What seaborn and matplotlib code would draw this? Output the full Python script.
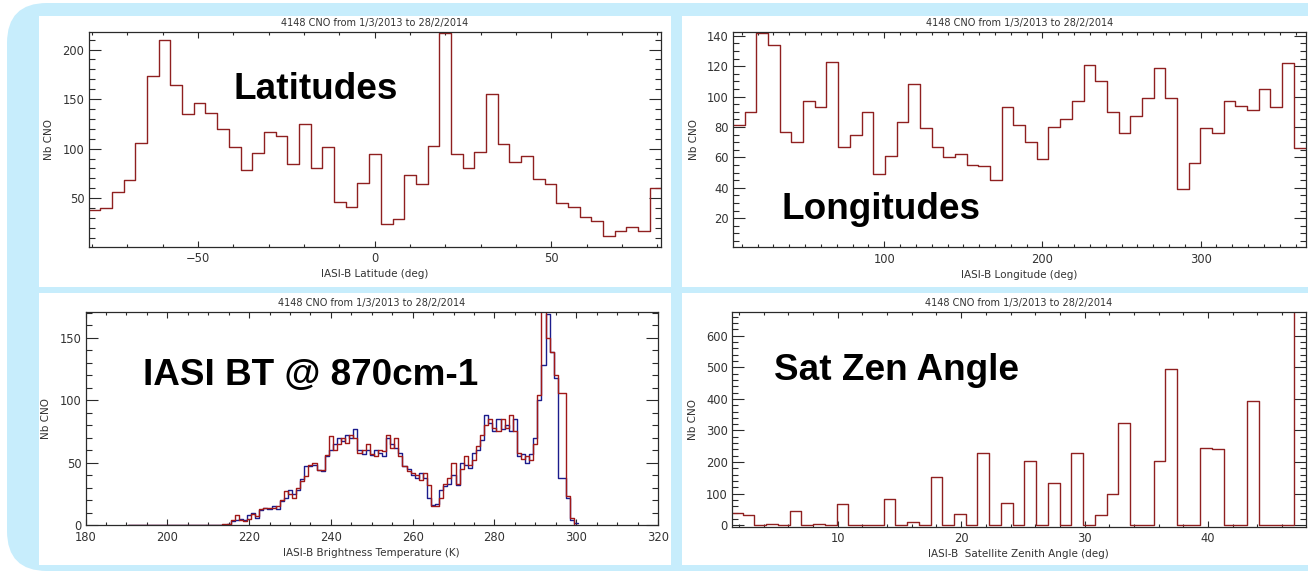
import numpy as np
import pandas as pd
import matplotlib
matplotlib.use("Agg")
import matplotlib.pyplot as plt
from matplotlib.patches import FancyBboxPatch, Rectangle
from matplotlib.ticker import MultipleLocator
from matplotlib.transforms import Affine2D
import seaborn as sns

W, H = 1308, 573
sns.set_style("ticks")
plt.rcParams['font.family'] = ['DejaVu Sans']

TITLE = "4148 CNO from 1/3/2013 to 28/2/2014"

# ---------------- data ----------------
lat_counts = [38, 40, 56, 68, 106, 173, 210, 164, 135, 146,
              136, 120, 102, 78, 96, 117, 113, 84, 125, 80,
              102, 46, 41, 65, 95, 24, 29, 73, 64, 103,
              217, 95, 80, 97, 155, 105, 86, 93, 69, 64,
              45, 41, 31, 27, 12, 17, 21, 17, 60]
lat_range = (-81.0, 81.2)

lon_counts = [81, 90, 142, 134, 77, 70, 97, 93, 123, 67,
              75, 90, 49, 61, 83, 108, 79, 67, 60, 62,
              55, 54, 45, 93, 81, 70, 59, 80, 85, 97,
              121, 110, 90, 76, 87, 99, 119, 99, 39, 56,
              79, 76, 97, 94, 91, 105, 93, 122, 66]
lon_range = (4.4, 366.3)

bt_range = (190.5, 300.5)
bt_red = [0] * 23 + [
    1, 1, 4, 8, 4, 3, 5, 9, 7, 13,
    14, 14, 14, 15, 20, 27, 25, 22, 30, 35,
    39, 48, 50, 44, 44, 56, 71, 60, 65, 70,
    66, 72, 70, 58, 60, 65, 57, 55, 60, 59,
    72, 62, 70, 55, 47, 43, 42, 40, 36, 42,
    32, 15, 15, 22, 33, 38, 50, 33, 45, 55,
    48, 52, 63, 72, 80, 85, 78, 75, 85, 78,
    88, 75, 58, 53, 55, 52, 65, 104, 180, 150,
    139, 120, 106, 106, 23, 6, 0]
bt_blue = [0] * 23 + [
    0, 1, 3, 4, 5, 4, 8, 10, 6, 12,
    14, 13, 15, 13, 19, 22, 28, 25, 28, 37,
    47, 47, 48, 44, 43, 55, 60, 65, 70, 67,
    72, 70, 77, 60, 57, 60, 56, 60, 58, 55,
    70, 65, 62, 58, 47, 45, 40, 38, 42, 38,
    22, 16, 17, 28, 31, 33, 40, 32, 50, 48,
    46, 58, 60, 68, 88, 82, 75, 85, 77, 80,
    75, 85, 55, 57, 50, 57, 70, 100, 128, 169,
    139, 118, 38, 38, 22, 4, 2]

sza_counts = [38, 32, 0, 4, 0, 45, 0, 4, 0, 66,
              0, 2, 0, 82, 0, 10, 0, 153, 0, 37,
              0, 230, 0, 71, 0, 204, 0, 134, 0, 228,
              0, 32, 100, 325, 0, 0, 204, 495, 0, 0,
              246, 242, 0, 0, 394, 0, 0, 0, 800]
sza_range = (1.347, 47.95)

LINE_RED = '#8f2020'
BT_RED = '#a01818'
BT_BLUE = '#1c1c8c'
FRAME = '#2a2a2a'
TXT = '#333333'
BLUE_BG = '#c7edfc'

# ---------------- figure ----------------
fig = plt.figure(figsize=(W / 100, H / 100), dpi=100)
fig.patch.set_facecolor('white')
px = Affine2D().scale(1, -1).translate(0, H).scale(1 / W, 1 / H) + fig.transFigure

fig.patches.append(FancyBboxPatch((7, 3), 1400, 568,
                                  boxstyle="round,pad=0,rounding_size=40",
                                  transform=px, facecolor=BLUE_BG,
                                  edgecolor='none', zorder=-3))
for (x0, y0, w, h) in [(39, 16, 632, 271), (682, 16, 640, 271),
                       (39, 293, 632, 272), (682, 293, 640, 272)]:
    fig.patches.append(Rectangle((x0, y0), w, h, transform=px,
                                 facecolor='white', edgecolor='none', zorder=-2))


def add_ax(x0, y0, x1, y1):
    ax = fig.add_axes([x0 / W, 1 - y1 / H, (x1 - x0) / W, (y1 - y0) / H])
    ax.set_zorder(1)
    return ax


def style(ax, xlabel, xmaj, xmin, ymaj, ymin, xlim, ylim):
    ax.set_facecolor('white')
    for s in ax.spines.values():
        s.set_visible(True)
        s.set_color(FRAME)
        s.set_linewidth(0.9)
    ax.set_xlim(*xlim)
    ax.set_ylim(*ylim)
    ax.xaxis.set_major_locator(MultipleLocator(xmaj))
    ax.xaxis.set_minor_locator(MultipleLocator(xmin))
    ax.yaxis.set_major_locator(MultipleLocator(ymaj))
    ax.yaxis.set_minor_locator(MultipleLocator(ymin))
    ax.tick_params(which='both', direction='in', top=True, right=True,
                   color=FRAME, width=0.8, labelcolor=TXT, labelsize=8.3)
    ax.tick_params(axis='x', which='major', length=4.0, pad=4)
    ax.tick_params(axis='x', which='minor', length=2.0)
    ax.tick_params(axis='y', which='major', length=8.3, pad=3)
    ax.tick_params(axis='y', which='minor', length=4.1)
    ax.set_title(TITLE, fontsize=7, color=TXT, pad=4)
    ax.set_xlabel(xlabel, fontsize=7.5, color=TXT, labelpad=3)
    ax.set_ylabel('Nb CNO', fontsize=7.5, color=TXT, labelpad=6)


def hist(ax, counts, rng, color):
    edges = np.linspace(rng[0], rng[1], len(counts) + 1)
    df = pd.DataFrame({'x': (edges[:-1] + edges[1:]) / 2, 'w': counts})
    sns.histplot(data=df, x='x', weights='w', bins=len(counts), binrange=rng,
                 element='step', fill=False, color=color, linewidth=1.0, ax=ax)


# Latitudes
ax1 = add_ax(88.5, 31.7, 661.5, 246.7)
hist(ax1, lat_counts, lat_range, LINE_RED)
style(ax1, 'IASI-B Latitude (deg)', 50, 10, 50, 10, (-81.0, 81.2), (1, 218))

# Longitudes
ax2 = add_ax(733, 32, 1305.5, 247)
hist(ax2, lon_counts, lon_range, LINE_RED)
style(ax2, 'IASI-B Longitude (deg)', 100, 10, 20, 5, (4.4, 366.3), (1, 142.5))

# Brightness temperature
ax3 = add_ax(85.5, 311.7, 658, 525)
n_bt = len(bt_red)
bt_centers = np.linspace(bt_range[0] + 0.5, bt_range[1] - 0.5, n_bt)
df_bt = pd.DataFrame({
    'T': np.concatenate([bt_centers, bt_centers]),
    'count': bt_red + bt_blue,
    'series': ['red'] * len(bt_red) + ['blue'] * len(bt_blue),
})
sns.histplot(data=df_bt, x='T', weights='count', hue='series',
             bins=n_bt, binrange=bt_range,
             element='step', fill=False, linewidth=1.0, legend=False,
             palette={'red': BT_RED, 'blue': BT_BLUE}, ax=ax3)
style(ax3, 'IASI-B Brightness Temperature (K)', 20, 5, 50, 10, (180, 320), (0, 171))

# Satellite zenith angle
ax4 = add_ax(732, 311.7, 1305.5, 526.5)
hist(ax4, sza_counts, sza_range, LINE_RED)
style(ax4, 'IASI-B  Satellite Zenith Angle (deg)', 10, 2, 100, 20, (1.43, 47.9), (-4, 676))

# Big annotations
big = dict(family='Liberation Sans', weight='bold', fontsize=26.6,
           color='black', va='baseline', ha='left', transform=px, zorder=5)
fig.text(234, 99, 'Latitudes', **big)
fig.text(781, 219, 'Longitudes', **big)
fig.text(143, 385, 'IASI BT @ 870cm-1', **big)
fig.text(774, 380, 'Sat Zen Angle', **big)

fig.savefig('out.png', dpi=100, facecolor='white')
